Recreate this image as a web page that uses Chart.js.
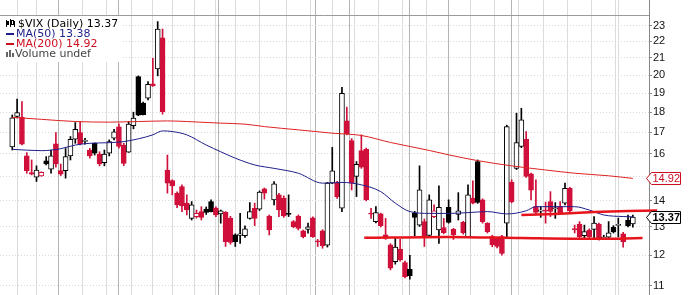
<!DOCTYPE html>
<html><head><meta charset="utf-8">
<script src="https://cdn.jsdelivr.net/npm/chart.js@4/dist/chart.umd.min.js"></script>
<style>html,body{margin:0;padding:0;background:#fff;overflow:hidden}#wrap{width:698px;height:295px;position:relative}</style>
</head><body><div id="wrap"><canvas id="c"></canvas></div>
<script>
// ---- data ----
const opens = [16.31,17.78,17.75,15.91,15.17,14.97,15.03,15.68,15.31,16.45,15.25,15.25,15.90,16.67,16.99,16.57,16.17,16.48,15.98,15.60,16.02,16.72,17.27,16.40,16.07,17.33,19.91,18.47,18.73,19.50,20.35,22.23,15.28,14.83,14.31,14.58,13.91,13.32,13.39,13.58,13.68,13.97,13.72,13.49,13.55,13.32,12.71,12.69,12.68,13.32,13.71,13.67,14.48,13.41,14.04,14.24,14.11,13.51,13.20,13.41,12.86,12.91,13.34,12.48,12.86,12.35,14.72,14.72,13.71,17.56,16.61,15.00,16.14,16.20,13.50,13.20,13.49,12.71,12.36,11.78,12.21,11.75,11.53,13.51,13.07,13.20,12.69,13.39,12.89,12.98,13.74,12.91,13.47,13.17,12.65,14.11,15.65,14.04,13.14,12.65,12.59,12.65,13.14,14.75,15.35,16.33,16.67,15.11,13.77,13.60,13.64,13.97,13.69,13.77,13.91,14.51,12.92,13.11,12.68,12.89,12.91,13.11,12.60,12.63,12.99,13.06,12.75,13.26,13.11];
const highs = [17.86,18.68,18.55,16.05,15.72,15.46,15.20,15.87,16.17,16.99,15.54,16.24,16.80,17.48,17.53,16.72,16.25,16.50,16.09,16.17,16.64,17.15,17.41,16.48,17.53,18.00,19.95,18.52,19.63,20.97,23.27,22.79,15.94,14.86,14.36,14.65,14.24,13.97,13.64,13.77,13.76,14.04,13.76,13.64,13.58,13.40,12.75,13.51,13.04,13.93,13.91,14.40,14.52,13.45,14.79,14.30,14.20,14.24,13.24,13.45,12.89,13.14,13.38,12.55,12.90,14.75,16.29,14.80,19.32,18.26,16.70,15.65,16.88,16.26,13.71,13.77,13.52,13.32,12.40,12.59,12.55,11.80,12.00,13.59,15.46,13.30,14.24,13.84,14.61,13.32,14.04,12.95,14.33,13.21,14.65,14.82,15.72,14.08,13.16,12.70,12.62,12.70,17.35,14.86,17.95,18.20,17.04,15.15,14.86,13.77,13.95,14.37,13.93,13.97,14.72,14.55,13.07,13.20,13.07,12.93,13.39,13.14,12.70,13.20,13.05,13.33,12.80,13.45,13.45];
const lows = [16.17,17.71,16.40,15.14,15.07,14.79,15.01,15.50,15.14,15.40,15.04,14.93,15.72,16.48,16.40,16.44,15.80,15.94,15.46,15.46,15.90,16.64,16.26,15.47,16.06,17.17,17.82,17.86,18.64,19.36,19.95,17.90,14.31,14.24,13.73,13.58,13.45,13.26,13.33,13.26,13.47,13.57,13.39,13.14,12.30,12.38,12.30,12.41,12.62,13.29,13.05,13.62,14.07,12.71,13.84,13.39,13.36,13.39,12.97,12.89,12.60,12.77,12.62,12.30,12.24,12.28,14.70,14.10,13.58,16.88,14.44,14.17,15.35,14.00,13.32,13.15,13.00,12.55,11.51,11.70,11.80,11.25,11.21,12.68,13.02,12.30,12.65,13.35,12.41,12.75,13.14,12.55,13.26,12.74,12.62,13.88,13.90,13.14,12.78,12.29,12.25,12.00,12.65,13.92,15.30,16.28,14.96,14.04,13.50,13.36,13.14,13.39,13.32,13.50,13.84,13.57,12.78,12.60,12.55,12.60,12.55,12.52,12.55,12.58,12.78,12.64,12.28,13.00,12.99];
const closes = [17.71,17.98,16.44,15.25,15.10,15.28,15.18,15.54,15.91,15.54,15.10,15.87,16.67,17.15,16.45,16.61,15.90,16.02,15.54,15.99,16.56,17.02,16.33,15.57,17.40,17.70,17.85,17.88,19.48,19.39,22.79,18.03,14.72,14.60,13.84,13.80,13.64,13.84,13.51,13.36,13.55,13.58,13.45,13.61,12.47,12.44,12.47,12.75,12.93,13.58,13.32,14.35,14.31,12.89,14.69,13.64,13.41,13.47,13.01,12.95,12.65,13.01,12.65,12.46,12.33,14.72,15.24,14.17,18.99,16.93,14.72,15.53,15.40,14.04,13.48,13.54,13.05,12.59,11.57,12.28,11.84,11.29,11.32,13.36,14.44,12.65,14.04,13.61,13.74,12.79,13.17,12.71,13.61,12.79,14.24,13.91,13.94,13.20,12.83,12.36,12.30,12.06,17.28,13.97,16.51,17.61,15.00,14.43,13.55,13.62,13.60,13.59,13.72,13.54,14.51,13.61,12.90,12.65,12.83,12.65,13.14,12.55,12.63,12.79,12.82,13.08,12.47,13.04,13.37];
// moving averages read at sample days: [day index, value]
const ma50Points = [[0,16.20],[6,16.14],[10,16.23],[13,16.40],[16,16.48],[20,16.51],[23,16.56],[26,16.69],[29,16.88],[31,17.07],[33,17.04],[36,16.88],[40,16.40],[43,16.09],[46,15.80],[50,15.50],[54,15.35],[59,15.14],[64,14.72],[68,14.75],[72,14.65],[76,14.37],[79,13.91],[82,13.58],[86,13.51],[90,13.51],[94,13.54],[98,13.58],[102,13.49],[106,13.61],[108,13.77],[112,13.77],[116,13.77],[119,13.64],[122,13.45],[126,13.39],[128,13.38]];
const ma200Points = [[0,17.74],[6,17.64],[13,17.53],[20,17.50],[26,17.53],[32,17.56],[36,17.53],[43,17.45],[48,17.40],[52,17.28],[59,17.12],[66,16.96],[72,16.85],[78,16.52],[86,16.15],[90,15.95],[96,15.69],[103,15.46],[110,15.28],[116,15.14],[123,15.03],[128,14.92]];
// hand-drawn trend lines
const supportLine = [[72.6,12.61],[90,12.64],[105,12.60],[120,12.57],[130,12.60],[139.2,12.68]];
const resistLine = [[105,13.45],[112,13.49],[120,13.56],[127,13.60],[133,13.62]];
const yTicks = [11,12,13,14,15,16,17,18,19,20,21,22,23];
const weekLines = [3,7,12,17,22,27,31,35,40,44,48,54,59,64,68,73,78,83,88,92,97,102,107,112,117,122,127];
const monthLines = [12,32,53,72,92,114];

const RED = '#d0103a', BLACK = '#000000';
const candleColor = i => (i === 0 || closes[i] >= closes[i-1]) ? BLACK : RED;
const pts = arr => arr.map(p => ({x: p[0], y: p[1]}));

const overlay = {
  id: 'overlay',
  beforeDatasetsDraw(chart) {
    const ctx = chart.ctx, ca = chart.chartArea;
    ctx.save();
    ctx.strokeStyle = '#9a9a9a'; ctx.lineWidth = 1;
    ctx.beginPath(); ctx.moveTo(ca.left, ca.top + 15.5); ctx.lineTo(ca.right, ca.top + 15.5); ctx.stroke();
    ctx.restore();
  },
  afterDraw(chart) {
    const ctx = chart.ctx, ca = chart.chartArea, ys = chart.scales.y;
    ctx.save();
    // legend
    ctx.fillStyle = '#fff';
    ctx.fillRect(ca.left, ca.top + 16, 122, 46);
    const lx = ca.left + 6, top = ca.top;
    ctx.font = '11px "DejaVu Sans"';
    ctx.textBaseline = 'alphabetic';
    ctx.fillStyle = '#000';
    ctx.fillRect(lx, top + 20, 1, 7); ctx.fillRect(lx + 1, top + 21, 2, 4);
    ctx.fillRect(lx + 4, top + 19, 1, 8); ctx.strokeStyle = '#000'; ctx.lineWidth = 1;
    ctx.strokeRect(lx + 5.5, top + 20.5, 2, 4); ctx.fillRect(lx + 8, top + 21, 1, 6);
    ctx.fillText('$VIX (Daily) ' + closes[closes.length-1].toFixed(2), lx + 12, top + 27);
    ctx.fillStyle = '#1f1f8a';
    ctx.fillRect(lx, top + 33, 8, 2);
    ctx.fillText('MA(50) ' + ma50Points[ma50Points.length-1][1].toFixed(2), lx + 10, top + 37);
    ctx.fillStyle = '#cc1020';
    ctx.fillRect(lx, top + 43, 8, 2);
    ctx.fillText('MA(200) ' + ma200Points[ma200Points.length-1][1].toFixed(2), lx + 10, top + 47);
    ctx.fillStyle = '#666';
    ctx.fillRect(lx, top + 52, 2, 5); ctx.fillRect(lx + 3, top + 50, 2, 7); ctx.fillRect(lx + 6, top + 53, 2, 4);
    ctx.fillStyle = '#444';
    ctx.fillText('Volume undef', lx + 9, top + 57);
    // value boxes on the axis
    const box = (v, text, col, bold) => {
      const y = Math.round(ys.getPixelForValue(v)) + 0.5;
      const x0 = ca.right - 2.5, w = 34, h = 12;
      ctx.beginPath();
      ctx.moveTo(x0, y); ctx.lineTo(x0 + 5, y - h/2); ctx.lineTo(x0 + w, y - h/2);
      ctx.lineTo(x0 + w, y + h/2); ctx.lineTo(x0 + 5, y + h/2); ctx.closePath();
      ctx.fillStyle = '#fff'; ctx.fill();
      ctx.strokeStyle = col; ctx.lineWidth = 1; ctx.stroke();
      ctx.fillStyle = col;
      ctx.font = (bold ? 'bold ' : '') + '11px "Liberation Sans"';
      ctx.textBaseline = 'middle'; ctx.textAlign = 'left';
      ctx.fillText(text, x0 + 6, y + 0.5);
    };
    const m200 = ma200Points[ma200Points.length-1][1];
    box(m200, m200.toFixed(2), '#cc1020', false);
    const lc = closes[closes.length-1];
    box(lc, lc.toFixed(2), '#000', true);
    ctx.restore();
  }
};

new Chart(document.getElementById('c'), {
  data: {
    datasets: [
      { type: 'line', data: pts(supportLine), borderColor: '#e8141c', borderWidth: 2.5, pointRadius: 0, tension: 0.3, clip: false, order: 1 },
      { type: 'line', data: pts(resistLine), borderColor: '#e8141c', borderWidth: 2.5, pointRadius: 0, tension: 0.3, clip: false, order: 1 },
      { type: 'line', data: pts(ma50Points), borderColor: '#1f1f8a', borderWidth: 1, pointRadius: 0, cubicInterpolationMode: 'monotone', order: 2 },
      { type: 'line', data: pts(ma200Points), borderColor: '#dd2222', borderWidth: 1, pointRadius: 0, cubicInterpolationMode: 'monotone', order: 2 },
      { type: 'bar', data: closes.map((c, i) => ({x: i, y: [opens[i], c]})),
        backgroundColor: ctx => closes[ctx.dataIndex] >= opens[ctx.dataIndex] ? '#ffffff' : candleColor(ctx.dataIndex),
        borderColor: ctx => candleColor(ctx.dataIndex), borderWidth: 1, borderSkipped: false,
        barThickness: 5, grouped: false, minBarLength: 1, order: 3 },
      { type: 'bar', data: closes.map((c, i) => ({x: i, y: [lows[i], highs[i]]})),
        backgroundColor: ctx => candleColor(ctx.dataIndex), borderWidth: 0,
        barThickness: 1, grouped: false, order: 4 }
    ]
  },
  options: {
    responsive: true, maintainAspectRatio: false, animation: false, devicePixelRatio: 1,
    layout: { padding: 0 },
    plugins: { legend: { display: false }, tooltip: { enabled: false } },
    scales: {
      x: {
        type: 'linear', min: -0.5, max: 129.3, position: 'bottom',
        afterBuildTicks: s => { s.ticks = weekLines.concat(monthLines).map(v => ({value: v})); },
        afterFit: s => { s.height = 0; s.paddingLeft = 0; s.paddingRight = 0; },
        ticks: { display: false },
        border: { display: false },
        grid: { drawTicks: false, color: c => (c.tick && monthLines.includes(c.tick.value)) ? '#b4b4b4' : '#dcdcdc' }
      },
      y: {
        type: 'logarithmic', position: 'right', min: 10.72, max: 24.74,
        afterBuildTicks: s => { s.ticks = yTicks.map(v => ({value: v})); },
        afterFit: s => { s.width = 49; s.paddingTop = 0; s.paddingBottom = 0; },
        ticks: { autoSkip: false, padding: 1, color: '#111', font: { family: 'Liberation Sans', size: 11 },
                 callback: v => String(v) },
        border: { display: true, color: '#8a8a8a', dash: [1, 2] },
        grid: { color: '#dadada', tickLength: 3, tickColor: '#8a8a8a' }
      }
    }
  },
  plugins: [overlay]
});
</script></body></html>
